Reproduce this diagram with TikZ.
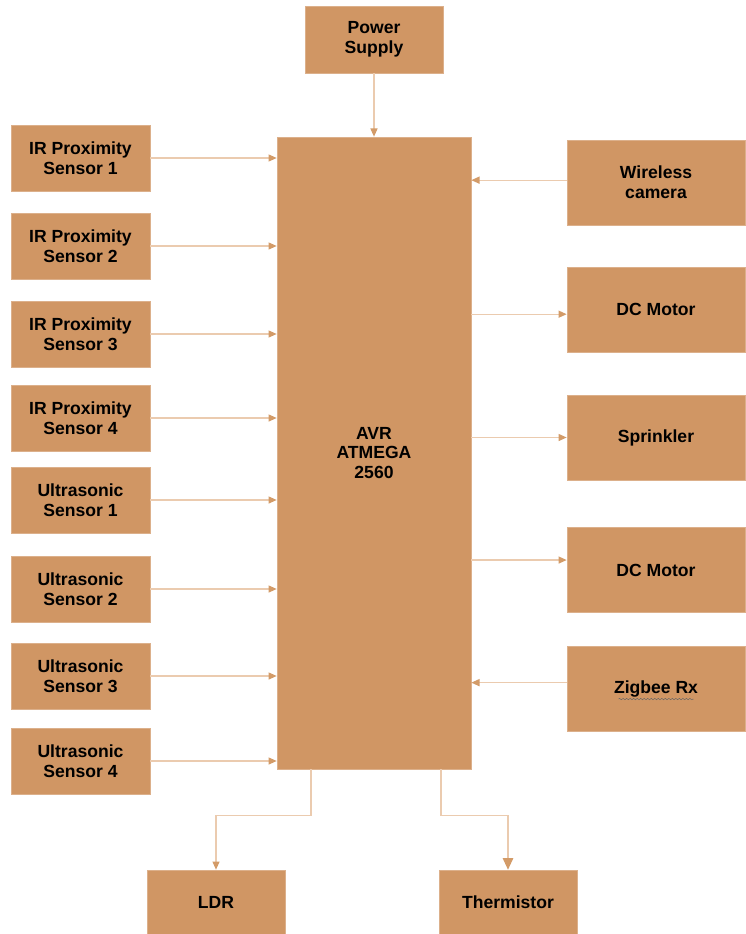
\documentclass[tikz,border=0pt]{standalone}
\usepackage{fontspec}
\setmainfont{Liberation Sans}
\usepackage{xcolor}
\usetikzlibrary{arrows.meta,positioning,calc,decorations.pathmorphing}
\definecolor{boxtan}{HTML}{D09664}
\definecolor{linetan}{HTML}{EBCBAF}
\definecolor{tiptan}{HTML}{D39B68}
\tikzset{
    block/.style={
        rectangle,
        inner sep=0pt,
        fill=boxtan,
        draw=boxtan!75!white,
        line width=0.5pt,
        align=center,
        font=\fontsize{15}{17}\selectfont\bfseries,
    },
    sensor/.style={
        block,
        minimum width=4.17cm,
        minimum height=1.98cm,
    },
    actuator/.style={
        block,
        minimum width=5.34cm,
        minimum height=2.55cm,
    },
    link/.style={
        draw=linetan,
        line width=1.1pt,
        -{Triangle[length=7pt,width=6pt,color=tiptan]},
    },
}

\begin{document}
\begin{tikzpicture}[x=0.03cm,y=-0.03cm]
    \useasboundingbox (0,0) rectangle (745,934);
    % controller and supply
    \node [block, minimum width=5.82cm, minimum height=18.96cm] (avr) at (374,453) {AVR\\ATMEGA\\2560};
    \node [block, minimum width=4.14cm, minimum height=2.01cm] (power) at (374,39.5) {Power\\Supply};
    % sensors on the left
    \node [sensor] (ir1) at (80.5,158) {IR Proximity\\Sensor 1};
    \node [sensor] (ir2) at (80.5,246) {IR Proximity\\Sensor 2};
    \node [sensor] (ir3) at (80.5,334) {IR Proximity\\Sensor 3};
    \node [sensor] (ir4) at (80.5,418) {IR Proximity\\Sensor 4};
    \node [sensor] (us1) at (80.5,500) {Ultrasonic\\Sensor 1};
    \node [sensor] (us2) at (80.5,589) {Ultrasonic\\Sensor 2};
    \node [sensor] (us3) at (80.5,676) {Ultrasonic\\Sensor 3};
    \node [sensor] (us4) at (80.5,761) {Ultrasonic\\Sensor 4};
    % devices on the right
    \node [actuator] (camera) at (656,182.5) {Wireless\\camera};
    \node [actuator] (motor1) at (656,309.5) {DC Motor};
    \node [actuator] (sprinkler) at (656,437.5) {Sprinkler};
    \node [actuator] (motor2) at (656,570) {DC Motor};
    \node [actuator] (zigbee) at (656,688.5) {Zigbee Rx};
    \draw [decorate, decoration={snake,amplitude=0.6pt,segment length=3pt}, draw=black!60, line width=0.4pt]
        ([xshift=-32pt,yshift=-9pt]zigbee.center) -- ([xshift=32pt,yshift=-9pt]zigbee.center);
    % bottom
    \node [block, minimum width=4.14cm, minimum height=1.92cm] (ldr) at (216,902) {LDR};
    \node [block, minimum width=4.14cm, minimum height=1.92cm] (thermistor) at (508,902) {Thermistor};

    % ports where the side arrows meet the boxes
    \coordinate (camera-out) at ([yshift=2pt]camera.west);
    \coordinate (motor1-in) at ([yshift=-4pt]motor1.west);
    \coordinate (motor2-in) at ([yshift=8.5pt]motor2.west);
    \coordinate (zigbee-out) at ([yshift=5pt]zigbee.west);

    \path[link] (power) -- (avr);
    \path[link] (ir1) -- (avr.west |- ir1);
    \path[link] (ir2) -- (avr.west |- ir2);
    \path[link] (ir3) -- (avr.west |- ir3);
    \path[link] (ir4) -- (avr.west |- ir4);
    \path[link] (us1) -- (avr.west |- us1);
    \path[link] (us2) -- (avr.west |- us2);
    \path[link] (us3) -- (avr.west |- us3);
    \path[link] (us4) -- (avr.west |- us4);
    \path[link] (camera-out) -- (avr.east |- camera-out);
    \path[link] (avr.east |- motor1-in) -- (motor1-in);
    \path[link] (avr.east |- sprinkler) -- (sprinkler);
    \path[link] (avr.east |- motor2-in) -- (motor2-in);
    \path[link] (zigbee-out) -- (avr.east |- zigbee-out);
    \path[link] ([xshift=-53.8pt]avr.south) -- ++(0,46) -| (ldr.north);
    \path[link, -{Triangle[length=10pt,width=9pt,color=tiptan]}] ([xshift=57.2pt]avr.south) -- ++(0,46) -| (thermistor.north);
\end{tikzpicture}
\end{document}
